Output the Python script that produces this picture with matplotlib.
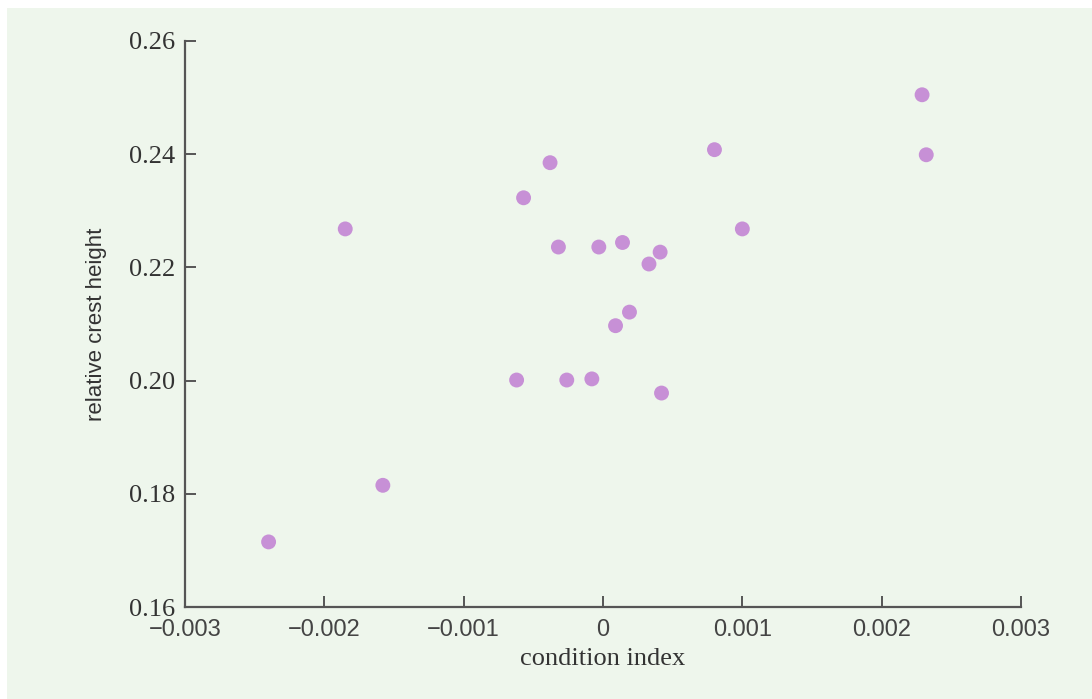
import matplotlib
matplotlib.use("Agg")
import matplotlib.pyplot as plt
from matplotlib.patches import Rectangle

# data
cond_index = [-0.00240, -0.00158, -0.00185, -0.00062, -0.00057, -0.00038,
              -0.00032, -0.00026, -0.00008, -0.00003, 0.00009, 0.00014,
              0.00019, 0.00033, 0.00041, 0.00042, 0.00080, 0.00100,
              0.00229, 0.00232]
crest_height = [0.1715, 0.1815, 0.2268, 0.2001, 0.2323, 0.2385,
                0.2236, 0.2001, 0.2003, 0.2236, 0.2097, 0.2244,
                0.2121, 0.2206, 0.2227, 0.1978, 0.2408, 0.2268,
                0.2505, 0.2399]
xticks = [-0.003, -0.002, -0.001, 0, 0.001, 0.002, 0.003]
xtick_labels = ['\u22120.003', '\u22120.002', '\u22120.001', '0', '0.001', '0.002', '0.003']
yticks = [0.16, 0.18, 0.20, 0.22, 0.24, 0.26]
ytick_labels = ['0.16', '0.18', '0.20', '0.22', '0.24', '0.26']

bg = '#eef6ec'
spine = '#555555'
serif = ['Liberation Serif', 'DejaVu Serif']
sans = ['Liberation Sans', 'DejaVu Sans']

fig = plt.figure(figsize=(10.92, 6.99), dpi=100, facecolor='white')
fig.patches.append(Rectangle((7/1092, 0), 1, 1 - 8/699, transform=fig.transFigure,
                             facecolor=bg, edgecolor='none', zorder=-10))

ax = fig.add_axes([185/1092, 92/699, (1021-185)/1092, (607-41)/699])
ax.set_facecolor('none')

ax.scatter(cond_index, crest_height, s=115, color='#c790d6', edgecolors='none', zorder=3)

ax.set_xlim(-0.003, 0.003)
ax.set_ylim(0.16, 0.26)
ax.set_xticks(xticks)
ax.set_xticklabels(xtick_labels, family=sans, fontsize=17, color='#444444')
ax.set_yticks(yticks)
ax.set_yticklabels(ytick_labels, family=serif, fontsize=19, color='#333333')

for s in ['top', 'right']:
    ax.spines[s].set_visible(False)
for s in ['left', 'bottom']:
    ax.spines[s].set_color(spine)
    ax.spines[s].set_linewidth(1.6)

ax.tick_params(axis='both', direction='in', length=8, width=1.4, color=spine)
ax.tick_params(axis='x', pad=9)
ax.tick_params(axis='y', pad=7)

ax.set_xlabel('condition index', family=serif, fontsize=19, color='#333333', labelpad=5)
ax.set_ylabel('relative crest height', family=sans, fontsize=16, color='#333333', labelpad=16)

fig.savefig('out.png', dpi=100, facecolor='white')
